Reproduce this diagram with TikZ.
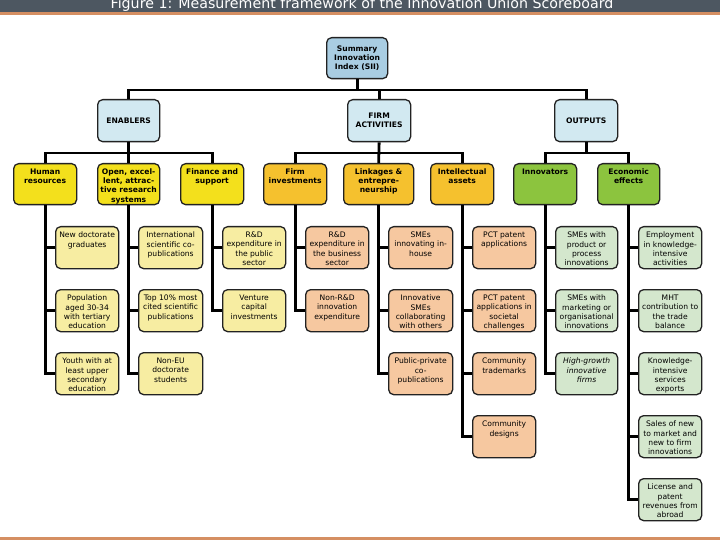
\documentclass[tikz,border=0pt]{standalone}
\usepackage{fontspec}
\setmainfont{DejaVu Sans}
\usetikzlibrary{calc}
\definecolor{titlebar}{HTML}{4D5761}
\definecolor{band}{HTML}{D58F62}
\definecolor{siiblue}{HTML}{A9CDE2}
\definecolor{lightblue}{HTML}{D2E9F1}
\definecolor{ylw}{HTML}{F3E01C}
\definecolor{lylw}{HTML}{F7EDA2}
\definecolor{gold}{HTML}{F5C12E}
\definecolor{peach}{HTML}{F6C8A0}
\definecolor{grn}{HTML}{8CC43E}
\definecolor{lgrn}{HTML}{D4E7CD}
\definecolor{edge}{HTML}{222222}
\newcommand\toptext[1]{\parbox[t][31pt][t]{62pt}{\centering\fontsize{7.6}{9.2}\selectfont #1}}
\tikzset{
  box/.style={draw=edge, line width=1.3pt, rounded corners=5pt, inner sep=0pt, anchor=north west, text=black},
  lvlone/.style={box, fill=lightblue, minimum width=62pt, minimum height=42pt, align=center, font=\bfseries\fontsize{7.6}{9.2}\selectfont},
  lvltwo/.style={box, minimum height=41pt, minimum width=63pt, font=\bfseries},
  lvlthree/.style={box, minimum height=42pt, minimum width=63pt},
  en2/.style={lvltwo, fill=ylw},
  en3/.style={lvlthree, fill=lylw},
  fa2/.style={lvltwo, fill=gold},
  fa3/.style={lvlthree, fill=peach},
  ou2/.style={lvltwo, fill=grn},
  ou3/.style={lvlthree, fill=lgrn},
  conn/.style={line width=2.8pt, black}
}
\begin{document}
\begin{tikzpicture}[x=1pt,y=-1pt]
\clip (0,0) rectangle (720,540);
\fill[white] (0,0) rectangle (720,540);
% title bar
\fill[titlebar] (0,0) rectangle (720,12);
\fill[band] (0,12) rectangle (720,15.5);
\fill[band] (0,536.5) rectangle (720,540);
\node[anchor=base, text=white, font=\fontsize{14.2}{14}\selectfont, inner sep=0pt] (title) at (362,8.5) {Figure 1: Measurement framework of the Innovation Union Scoreboard};

% level one
\node[lvlone, fill=siiblue, minimum width=61pt, minimum height=41pt] (sii) at (326,37) {Summary\\Innovation\\Index (SII)};
\node[lvlone] (ena) at (97,99) {ENABLERS};
\node[lvlone, minimum width=63pt] (firm) at (347,99) {FIRM\\ACTIVITIES};
\node[lvlone, minimum width=63pt] (out) at (554,99) {OUTPUTS};

% level two
\node[en2] (hr) at (13,163) {\toptext{Human\\resources}};
\node[en2, minimum width=62pt] (open) at (97,163) {\toptext{Open, excel-\\lent, attrac-\\tive research\\systems}};
\node[en2] (fin) at (180,163) {\toptext{Finance and\\support}};
\node[fa2] (finv) at (263,163) {\toptext{Firm\\investments}};
\node[fa2, minimum width=70pt] (link) at (343,163) {\toptext{Linkages \&\\entrepre-\\neurship}};
\node[fa2] (intel) at (430,163) {\toptext{Intellectual\\assets}};
\node[ou2] (innov) at (513,163) {\toptext{Innovators}};
\node[ou2, minimum width=61pt] (econ) at (597,163) {\toptext{Economic\\effects}};

% level three: enablers
\node[en3] (hra) at (55,226) {\toptext{New doctorate\\graduates}};
\node[en3] (hrb) at (55,289) {\toptext{Population\\aged 30-34\\with tertiary\\education}};
\node[en3] (hrc) at (55,352) {\toptext{Youth with at\\least upper\\secondary\\education}};
\node[en3, minimum width=64pt] (opa) at (138,226) {\toptext{International\\scientific co-\\publications}};
\node[en3, minimum width=64pt] (opb) at (138,289) {\toptext{Top 10\% most\\cited scientific\\publications}};
\node[en3, minimum width=64pt] (opc) at (138,352) {\toptext{Non-EU\\doctorate\\students}};
\node[en3] (fia) at (222,226) {\toptext{R\&D\\expenditure in\\the public\\sector}};
\node[en3] (fib) at (222,289) {\toptext{Venture\\capital\\investments}};
% firm activities
\node[fa3] (fva) at (305,226) {\toptext{R\&D\\expenditure in\\the business\\sector}};
\node[fa3] (fvb) at (305,289) {\toptext{Non-R\&D\\innovation\\expenditure}};
\node[fa3, minimum width=64pt] (lka) at (388,226) {\toptext{SMEs\\innovating in-\\house}};
\node[fa3, minimum width=64pt] (lkb) at (388,289) {\toptext{Innovative\\SMEs\\collaborating\\with others}};
\node[fa3, minimum width=64pt] (lkc) at (388,352) {\toptext{Public-private\\co-\\publications}};
\node[fa3] (ina) at (472,226) {\toptext{PCT patent\\applications}};
\node[fa3] (inb) at (472,289) {\toptext{PCT patent\\applications in\\societal\\challenges}};
\node[fa3] (inc) at (472,352) {\toptext{Community\\trademarks}};
\node[fa3] (ind) at (472,415) {\toptext{Community\\designs}};
% outputs
\node[ou3, minimum width=62pt] (iva) at (555,226) {\toptext{SMEs with\\product or\\process\\innovations}};
\node[ou3, minimum width=62pt] (ivb) at (555,289) {\toptext{SMEs with\\marketing or\\organisational\\innovations}};
\node[ou3, minimum width=62pt] (ivc) at (555,352) {\toptext{\itshape High-growth\\innovative\\firms}};
\node[ou3] (eca) at (638,226) {\toptext{Employment\\in knowledge-\\intensive\\activities}};
\node[ou3] (ecb) at (638,289) {\toptext{MHT\\contribution to\\the trade\\balance}};
\node[ou3] (ecc) at (638,352) {\toptext{Knowledge-\\intensive\\services\\exports}};
\node[ou3] (ecd) at (638,415) {\toptext{Sales of new\\to market and\\new to firm\\innovations}};
\node[ou3] (ece) at (638,478) {\toptext{License and\\patent\\revenues from\\abroad}};

% bars
\coordinate (barone) at (0,90);
\coordinate (bartwo) at (0,153);

% connectors level one
\draw[conn] (sii.south) -- (sii.south |- barone);
\draw[conn] (ena.north) |- (out.north |- barone) -- (out.north);
\draw[conn] (firm.north) -- (firm.north |- barone);
% connectors level two
\draw[conn] (hr.north) |- (fin.north |- bartwo) -- (fin.north);
\draw[conn] (ena.south) -- (open.north);
\draw[conn] (finv.north) |- (intel.north |- bartwo) -- (intel.north);
\draw[conn] (firm.south) -- (link.north);
\draw[conn] (innov.north) |- (econ.north |- bartwo) -- (econ.north);
\draw[conn] (out.south) -- (out.south |- bartwo);
% connectors level three
\draw[conn] (hr.south) |- (hrc.west);
\draw[conn] (hr.south |- hra.west) -- (hra.west);
\draw[conn] (hr.south |- hrb.west) -- (hrb.west);
\draw[conn] (open.south) |- (opc.west);
\draw[conn] (open.south |- opa.west) -- (opa.west);
\draw[conn] (open.south |- opb.west) -- (opb.west);
\draw[conn] (fin.south) |- (fib.west);
\draw[conn] (fin.south |- fia.west) -- (fia.west);
\draw[conn] (finv.south) |- (fvb.west);
\draw[conn] (finv.south |- fva.west) -- (fva.west);
\draw[conn] (link.south) |- (lkc.west);
\draw[conn] (link.south |- lka.west) -- (lka.west);
\draw[conn] (link.south |- lkb.west) -- (lkb.west);
\draw[conn] (intel.south) |- (ind.west);
\draw[conn] (intel.south |- ina.west) -- (ina.west);
\draw[conn] (intel.south |- inb.west) -- (inb.west);
\draw[conn] (intel.south |- inc.west) -- (inc.west);
\draw[conn] (innov.south) |- (ivc.west);
\draw[conn] (innov.south |- iva.west) -- (iva.west);
\draw[conn] (innov.south |- ivb.west) -- (ivb.west);
\draw[conn] (econ.south) |- (ece.west);
\draw[conn] (econ.south |- eca.west) -- (eca.west);
\draw[conn] (econ.south |- ecb.west) -- (ecb.west);
\draw[conn] (econ.south |- ecc.west) -- (ecc.west);
\draw[conn] (econ.south |- ecd.west) -- (ecd.west);
\end{tikzpicture}
\end{document}
